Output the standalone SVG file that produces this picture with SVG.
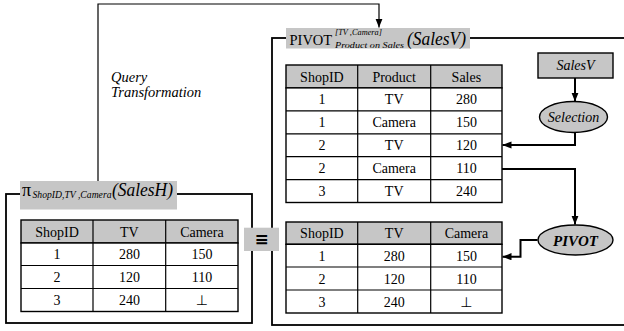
<svg xmlns="http://www.w3.org/2000/svg" width="624" height="331" viewBox="0 0 624 331" font-family="'Liberation Serif', 'Times New Roman', Times, Tinos, 'Noto Serif', 'DejaVu Serif', FreeSerif, serif">
<defs>
<marker id="arr" viewBox="0 0 10 8" refX="10" refY="4" markerWidth="9" markerHeight="7.5" markerUnits="userSpaceOnUse" orient="auto">
<path d="M0,0 L10,4 L0,8 Z" fill="#000"/>
</marker>
</defs>
<style>
.frame{fill:none;stroke:#000;stroke-width:1.8}
.grid{fill:#fff;stroke:#000;stroke-width:1.4}
.hdr{fill:#c6c6c6;stroke:#000;stroke-width:1.4}
.lab{fill:#c6c6c6;stroke:none}
.conn{fill:none;stroke:#000;stroke-width:2}
.thin{fill:none;stroke:#000;stroke-width:1.2}
.cell{font-size:14px;text-anchor:middle}
.it{font-style:italic}
.sym{font-family:'DejaVu Sans',sans-serif}
</style>
<rect width="624" height="331" fill="#fff"/>

<g id="connectors">
<path class="thin" d="M98,181 V4 H379 V27.5" marker-end="url(#arr)"/>
<path class="conn" d="M575,78 V101.5" marker-end="url(#arr)"/>
<path class="conn" d="M575,132.5 V145 H502.5" marker-end="url(#arr)"/>
<path class="conn" d="M502,169 H575 V224.5" marker-end="url(#arr)"/>
<path class="conn" d="M537.5,240 H520.5 V256.7 H502.5" marker-end="url(#arr)"/>
</g>

<g id="query-transformation">
<text class="it" x="111" y="82" font-size="14.5">Query</text>
<text class="it" x="111" y="97" font-size="14.5">Transformation</text>
</g>

<g id="pivot-frame">
<rect class="frame" x="272" y="38" width="360" height="287"/>
<rect class="lab" x="286" y="28" width="184" height="20.5"/>
<text x="289.5" y="45" font-size="14.5">PIVOT</text>
<text class="it" x="335" y="34.5" font-size="9" textLength="47" lengthAdjust="spacingAndGlyphs">[TV ,Camera]</text>
<text class="it" x="335" y="48" font-size="9" textLength="69" lengthAdjust="spacingAndGlyphs">Product on Sales</text>
<text class="it" x="407" y="45" font-size="19" textLength="59" lengthAdjust="spacingAndGlyphs">(SalesV)</text>
</g>

<g id="salesv-table">
<rect class="hdr" x="286" y="65" width="216" height="22.9"/>
<rect class="grid" x="286" y="87.9" width="216" height="114.6"/>
<path class="thin" d="M286,110.8 H502 M286,133.8 H502 M286,156.7 H502 M286,179.6 H502 M357.7,65 V202.5 M430.7,65 V202.5"/>
<text class="cell" x="321.9" y="81.5">ShopID</text>
<text class="cell" x="394.2" y="81.5">Product</text>
<text class="cell" x="466.4" y="81.5">Sales</text>
<text class="cell" x="321.9" y="104.4">1</text><text class="cell" x="394.2" y="104.4">TV</text><text class="cell" x="466.4" y="104.4">280</text>
<text class="cell" x="321.9" y="127.3">1</text><text class="cell" x="394.2" y="127.3">Camera</text><text class="cell" x="466.4" y="127.3">150</text>
<text class="cell" x="321.9" y="150.2">2</text><text class="cell" x="394.2" y="150.2">TV</text><text class="cell" x="466.4" y="150.2">120</text>
<text class="cell" x="321.9" y="173.2">2</text><text class="cell" x="394.2" y="173.2">Camera</text><text class="cell" x="466.4" y="173.2">110</text>
<text class="cell" x="321.9" y="196">3</text><text class="cell" x="394.2" y="196">TV</text><text class="cell" x="466.4" y="196">240</text>
</g>

<g id="pivot-result-table">
<rect class="hdr" x="286" y="222" width="216" height="22.3"/>
<rect class="grid" x="286" y="244.3" width="216" height="68.7"/>
<path class="thin" d="M286,267 H502 M286,290 H502 M357.7,222 V313 M430.7,222 V313"/>
<text class="cell" x="321.9" y="238">ShopID</text>
<text class="cell" x="394.2" y="238">TV</text>
<text class="cell" x="466.4" y="238">Camera</text>
<text class="cell" x="321.9" y="260.7">1</text><text class="cell" x="394.2" y="260.7">280</text><text class="cell" x="466.4" y="260.7">150</text>
<text class="cell" x="321.9" y="283.5">2</text><text class="cell" x="394.2" y="283.5">120</text><text class="cell" x="466.4" y="283.5">110</text>
<text class="cell" x="321.9" y="306.5">3</text><text class="cell" x="394.2" y="306.5">240</text><text class="cell sym" x="466.4" y="306.5" font-size="12">⊥</text>
</g>

<g id="salesv-source">
<rect class="hdr" x="538" y="53" width="75" height="25"/>
<text class="it" x="575.5" y="70" font-size="14" text-anchor="middle">SalesV</text>
</g>

<g id="selection">
<ellipse class="hdr" cx="573.5" cy="117" rx="34" ry="15.5"/>
<text class="it" x="573.5" y="122" font-size="14" text-anchor="middle">Selection</text>
</g>

<g id="pivot-op">
<ellipse class="hdr" cx="575.5" cy="240" rx="37.5" ry="15"/>
<text class="it" x="575.5" y="245.5" font-size="15" font-weight="bold" text-anchor="middle">PIVOT</text>
</g>

<g id="projection-frame">
<rect class="frame" x="6" y="194" width="246" height="129"/>
<rect class="lab" x="20" y="181" width="157" height="28.5"/>
<text x="22" y="196" font-size="18">π</text>
<text class="it" x="32.5" y="198" font-size="10" textLength="79" lengthAdjust="spacingAndGlyphs">ShopID,TV ,Camera</text>
<text class="it" x="112" y="196" font-size="19" textLength="61" lengthAdjust="spacingAndGlyphs">(SalesH)</text>
</g>

<g id="salesh-table">
<rect class="hdr" x="21" y="220" width="217" height="23"/>
<rect class="grid" x="21" y="243" width="217" height="68.5"/>
<path class="thin" d="M21,265.5 H238 M21,288.5 H238 M93,220 V311.5 M165.7,220 V311.5"/>
<text class="cell" x="57" y="236.5">ShopID</text>
<text class="cell" x="129.4" y="236.5">TV</text>
<text class="cell" x="201.9" y="236.5">Camera</text>
<text class="cell" x="57" y="259">1</text><text class="cell" x="129.4" y="259">280</text><text class="cell" x="201.9" y="259">150</text>
<text class="cell" x="57" y="282">2</text><text class="cell" x="129.4" y="282">120</text><text class="cell" x="201.9" y="282">110</text>
<text class="cell" x="57" y="305">3</text><text class="cell" x="129.4" y="305">240</text><text class="cell sym" x="201.9" y="305" font-size="12">⊥</text>
</g>

<g id="equivalence">
<rect class="lab" x="244" y="227.7" width="35" height="23.3"/>
<text class="sym" x="261.5" y="245" font-size="17" font-weight="bold" text-anchor="middle">≡</text>
</g>
</svg>
